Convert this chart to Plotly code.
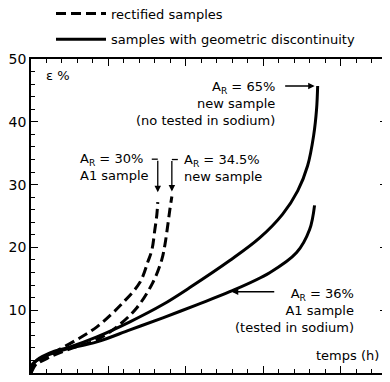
import plotly.graph_objects as go

# ---- data (time in h, strain in %) ----
rect_a1_t = [0, 39, 142, 271, 426, 594, 703, 755, 781, 800, 813, 819]
rect_a1_e = [0, 1.6, 3.2, 4.95, 7.35, 11.2, 14.4, 17.7, 19.6, 22.8, 25.2, 27.2]

rect_new_t = [0, 13, 123, 271, 426, 555, 684, 787, 845, 865, 884, 897, 910]
rect_new_e = [0, 0.96, 2.55, 4.0, 5.3, 7.35, 10.4, 14.4, 18.05, 20.4, 23.6, 26.0, 28.1]

geo_new_t = [0, 13, 39, 123, 252, 426, 639, 852, 1026, 1284, 1477, 1626, 1723, 1787, 1826, 1845, 1852]
geo_new_e = [0, 1.3, 2.1, 3.2, 4.15, 5.75, 8.15, 10.9, 13.6, 17.9, 21.5, 25.3, 29.0, 33.0, 37.8, 42.0, 45.7]

geo_a1_t = [0, 6, 77, 206, 426, 639, 852, 1071, 1284, 1542, 1716, 1800, 1832]
geo_a1_e = [0, 1.3, 2.55, 3.67, 4.95, 6.87, 8.79, 10.86, 12.94, 15.97, 19.17, 22.84, 26.7]

x_ticks = [0, 500, 1000, 1500, 2000]
y_ticks = [10, 20, 30, 40, 50]

FONT = "DejaVu Sans"
OFF = 8                      # page body margin
W, H = 382, 382
L, R, T, B = 23, 3, 51, 17
XMAX, YMAX = 2300, 50
PW, PH = W - L - R, H - T - B


def px2x(px):
    return (px - OFF - L) * XMAX / PW


def px2y(py):
    return (H - B - (py - OFF)) * YMAX / PH


fig = go.Figure()
dash = "10px,5px"
fig.add_trace(go.Scatter(x=rect_a1_t, y=rect_a1_e, mode="lines", name="rectified samples",
                         legendgroup="r", showlegend=True,
                         line=dict(color="black", width=3, dash=dash, shape="spline")))
fig.add_trace(go.Scatter(x=rect_new_t, y=rect_new_e, mode="lines", name="rectified samples",
                         legendgroup="r", showlegend=False,
                         line=dict(color="black", width=3, dash=dash, shape="spline")))
fig.add_trace(go.Scatter(x=geo_new_t, y=geo_new_e, mode="lines",
                         name="samples with geometric discontinuity",
                         legendgroup="g", showlegend=True,
                         line=dict(color="black", width=3, shape="spline")))
fig.add_trace(go.Scatter(x=geo_a1_t, y=geo_a1_e, mode="lines",
                         name="samples with geometric discontinuity",
                         legendgroup="g", showlegend=False,
                         line=dict(color="black", width=3, shape="spline")))

txt = dict(family=FONT, size=13, color="black")
arrow = dict(showarrow=True, arrowhead=2, arrowsize=1, arrowwidth=1.3, arrowcolor="black",
             xref="x", yref="y", text="")
ann = [
    dict(x=geo_new_t[-1], y=geo_new_e[-1], ax=-34, ay=0, standoff=3, **arrow),
    dict(x=geo_a1_t[8], y=geo_a1_e[8], ax=46, ay=0, standoff=2, **arrow),
    dict(x=rect_a1_t[-1], y=rect_a1_e[-1], ax=0, ay=-43, standoff=10, **arrow),
    dict(x=rect_new_t[-1], y=rect_new_e[-1], ax=0, ay=-37, standoff=5, **arrow),
]

# text blocks
ann.append(dict(x=px2x(277), y=px2y(77), xref="x", yref="y", xanchor="right", yanchor="top",
                align="right", showarrow=False, font=txt,
                text="A<sub>R</sub> = 65%<br>new sample<br>(no tested in sodium)"))
ann.append(dict(x=px2x(182), y=px2y(150), xref="x", yref="y", xanchor="left", yanchor="top",
                align="left", showarrow=False, font=txt,
                text="A<sub>R</sub> = 34.5%<br>new sample"))
ann.append(dict(x=px2x(78), y=px2y(149), xref="x", yref="y", xanchor="left", yanchor="top",
                align="left", showarrow=False, font=txt,
                text="A<sub>R</sub> = 30%<br>A1 sample"))
ann.append(dict(x=px2x(356), y=px2y(284), xref="x", yref="y", xanchor="right", yanchor="top",
                align="right", showarrow=False, font=txt,
                text="A<sub>R</sub> = 36%<br>A1 sample<br>(tested in sodium)"))
ann.append(dict(x=px2x(381), y=px2y(355), xref="x", yref="y", xanchor="right", yanchor="middle",
                showarrow=False, font=txt, text="temps (h)"))
ann.append(dict(x=px2x(44), y=px2y(75), xref="x", yref="y", xanchor="left", yanchor="middle",
                showarrow=False, font=txt, text="ε %"))

shapes = [
    dict(type="line", xref="x", yref="y", xsizemode="pixel", ysizemode="pixel",
         xanchor=rect_a1_t[-1], yanchor=rect_a1_e[-1], x0=-6, x1=0, y0=43, y1=43,
         line=dict(color="black", width=1.3)),
    dict(type="line", xref="x", yref="y", xsizemode="pixel", ysizemode="pixel",
         xanchor=rect_new_t[-1], yanchor=rect_new_e[-1], x0=0, x1=6, y0=37, y1=37,
         line=dict(color="black", width=1.3)),
]

axis_common = dict(showline=True, linecolor="black", linewidth=1.5, mirror="ticks",
                   ticks="inside", ticklen=7, tickwidth=1.3, tickcolor="black",
                   showgrid=False, zeroline=False, automargin=False,
                   tickfont=dict(family=FONT, size=14, color="black"))

fig.update_layout(
    width=W, height=H,
    margin=dict(l=L, r=R, t=T, b=B, pad=0, autoexpand=False),
    paper_bgcolor="white", plot_bgcolor="white",
    font=dict(family=FONT, size=13, color="black"),
    xaxis=dict(range=[0, XMAX], tickvals=x_ticks, ticklabelstandoff=1,
               minor=dict(dtick=100, tick0=0, ticks="inside", ticklen=4, tickcolor="black", tickwidth=1.2),
               **axis_common),
    yaxis=dict(range=[0, YMAX], tickvals=y_ticks,
               minor=dict(dtick=2, tick0=0, ticks="inside", ticklen=4, tickcolor="black", tickwidth=1.2),
               **axis_common),
    legend=dict(x=(51 - OFF - L) / PW, y=1 + (T + 9.5) / PH, xanchor="left", yanchor="top",
                bgcolor="rgba(0,0,0,0)", borderwidth=0, itemwidth=50, tracegroupgap=6,
                font=dict(family=FONT, size=13, color="black")),
    annotations=ann,
    shapes=shapes,
)

fig.write_html("out.html")
